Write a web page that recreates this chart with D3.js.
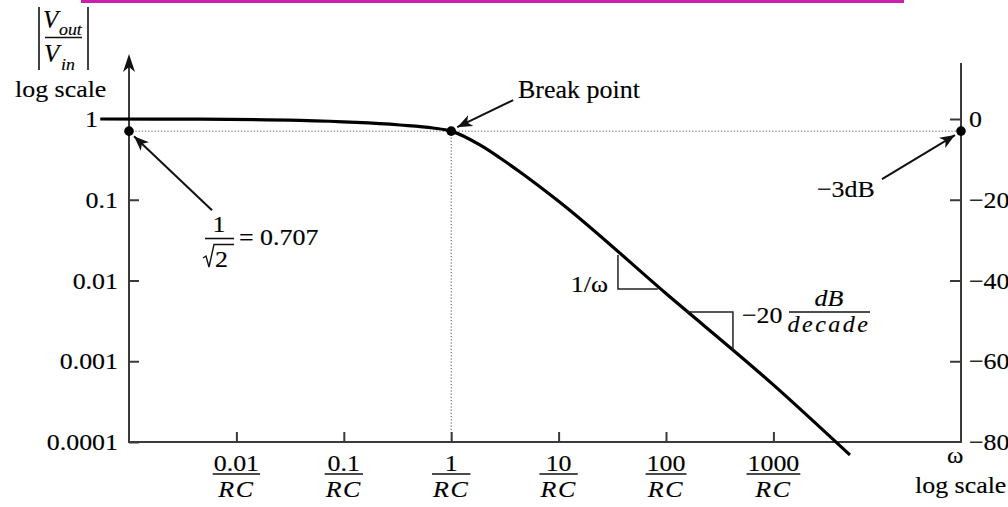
<!DOCTYPE html>
<html>
<head>
<meta charset="utf-8">
<script src="https://cdn.jsdelivr.net/npm/d3@7"></script>
<style>
  html, body { margin: 0; padding: 0; background: #fff; }
  svg { display: block; }
  text { font-family: "Liberation Serif", "Times New Roman", serif; fill: #000; stroke: #000; stroke-width: 0.15px; }
</style>
</head>
<body>
<svg id="chart" width="1008" height="507"></svg>
<script>
// Low-pass RC filter: magnitude response on log-log axes
const xTickValues = [0.01, 0.1, 1, 10, 100, 1000];
const xTickLabels = ["0.01", "0.1", "1", "10", "100", "1000"];
const yTickValues = [1, 0.1, 0.01, 0.001, 0.0001];
const yTickLabels = ["1", "0.1", "0.01", "0.001", "0.0001"];
const dbTickValues = [0, -20, -40, -60, -80];
const dbTickLabels = ["0", "\u221220", "\u221240", "\u221260", "\u221280"];

// |Vout/Vin| versus omega (in units of 1/RC)
const curveOmega = [0.00054, 0.0046, 0.039, 0.333, 0.676, 1, 1.85, 2.85, 4.37, 10, 100, 1000, 5160];
const curveMag   = [1, 0.995, 0.96, 0.843, 0.774, 0.707, 0.477, 0.329, 0.221, 0.096, 0.0069, 0.00051, 0.000069];

const breakOmega = 1;
const halfPower = 0.707;
const minus3dB = -3;

// slope guide triangles, in data units: [omega, magnitude] corners
const slopeTri1 = [[35.7, 0.0207], [35.7, 0.00785], [84, 0.00785]];
const slopeTri2 = [[157, 0.00407], [420, 0.00407], [420, 0.00138]];

const svg = d3.select("#chart");

const x = d3.scaleLog().domain([0.001, 55800]).range([129, 961]);
const y = d3.scaleLog().domain([0.0001, 1]).range([442, 119]);
const yDb = d3.scaleLinear().domain([-80, 0]).range([442, 119]);

const AX = "#3a3a3a";
const SX = 1.08;
const FS = 24;

// text helper: slightly widened serif text
function label(g, px, py, str, o = {}) {
  const t = g.append("text")
    .attr("transform", `translate(${px},${py}) scale(${o.sx ?? SX},1)`)
    .attr("text-anchor", o.anchor || "start")
    .style("font-size", (o.size || FS) + "px")
    .text(str);
  if (o.italic) t.style("font-style", "italic");
  if (o.ls) t.style("letter-spacing", o.ls + "px");
  return t;
}
function textWidth(t, sx = SX) { return t.node().getComputedTextLength() * sx; }

// arrow from tail to tip with a barbed head
function arrow(g, tail, tip) {
  g.append("line").attr("x1", tail[0]).attr("y1", tail[1])
    .attr("x2", tip[0]).attr("y2", tip[1])
    .attr("stroke", "#111").attr("stroke-width", 2);
  const a = Math.atan2(tip[1] - tail[1], tip[0] - tail[0]) * 180 / Math.PI;
  g.append("path").attr("d", "M0,0 L-15,-6 L-11,0 L-15,6 Z")
    .attr("fill", "#111")
    .attr("transform", `translate(${tip[0]},${tip[1]}) rotate(${a})`);
}

// top accent rule
svg.append("rect").attr("x", 81).attr("y", 0).attr("width", 823).attr("height", 3).attr("fill", "#cc1fae");

// ----- axes -----
const x0 = x.range()[0], x1 = x.range()[1];
const yBot = y(0.0001);

// reference lines at the half-power level
svg.append("line").attr("x1", x0).attr("x2", x1)
  .attr("y1", y(halfPower)).attr("y2", y(halfPower))
  .attr("stroke", "#555").attr("stroke-width", 1).attr("stroke-dasharray", "1.2,2");
svg.append("line").attr("x1", x(breakOmega)).attr("x2", x(breakOmega))
  .attr("y1", y(halfPower)).attr("y2", yBot)
  .attr("stroke", "#555").attr("stroke-width", 1).attr("stroke-dasharray", "1.2,2");

// left axis with arrow
svg.append("line").attr("x1", x0).attr("x2", x0).attr("y1", yBot + 1).attr("y2", 62)
  .attr("stroke", AX).attr("stroke-width", 2);
svg.append("path").attr("d", `M${x0},54 L${x0 - 6},72 L${x0},67 L${x0 + 6},72 Z`).attr("fill", "#111");

// right axis
svg.append("line").attr("x1", x1).attr("x2", x1).attr("y1", yBot + 1).attr("y2", 63)
  .attr("stroke", AX).attr("stroke-width", 2);

// bottom axis
svg.append("line").attr("x1", x0 - 1).attr("x2", x1 + 1).attr("y1", yBot).attr("y2", yBot)
  .attr("stroke", AX).attr("stroke-width", 2);

// tick marks via d3 axes
const gx = svg.append("g").attr("transform", `translate(0,${yBot})`)
  .call(d3.axisBottom(x).tickValues(xTickValues).tickSize(-10).tickFormat(""));
const gy = svg.append("g").attr("transform", `translate(${x0},0)`)
  .call(d3.axisLeft(y).tickValues(yTickValues.slice(1)).tickSize(-10).tickFormat(""));
const gr = svg.append("g").attr("transform", `translate(${x1},0)`)
  .call(d3.axisRight(yDb).tickValues(dbTickValues.slice(0, 4)).tickSize(-11).tickFormat(""));
[gx, gy, gr].forEach(g => {
  g.select(".domain").remove();
  g.selectAll(".tick line").attr("stroke", AX).attr("stroke-width", 2);
});

// left tick labels
yTickValues.forEach((v, i) => {
  const px = v === 1 ? 98 : 118;
  label(svg, px, y(v) + 8, yTickLabels[i], { anchor: "end" });
});

// right dB labels (run off the right edge)
dbTickValues.forEach((v, i) => {
  label(svg, 969, yDb(v) + 8, dbTickLabels[i]);
});

// bottom fraction labels  n / RC
xTickValues.forEach((v, i) => {
  const cx = x(v);
  const num = label(svg, cx, 471, xTickLabels[i], { anchor: "middle" });
  const den = label(svg, cx, 497, "RC", { anchor: "middle", italic: true, ls: 1.5 });
  const w = Math.max(textWidth(num), textWidth(den)) + 2;
  svg.append("line").attr("x1", cx - w / 2).attr("x2", cx + w / 2)
    .attr("y1", 474).attr("y2", 474).attr("stroke", "#111").attr("stroke-width", 1.6);
});

// axis titles
const title = svg.append("g");
title.append("line").attr("x1", 39).attr("x2", 39).attr("y1", 7).attr("y2", 70).attr("stroke", "#111").attr("stroke-width", 1.6);
title.append("line").attr("x1", 88).attr("x2", 88).attr("y1", 7).attr("y2", 70).attr("stroke", "#111").attr("stroke-width", 1.6);
label(title, 43, 28, "V", { italic: true, size: 25, sx: 1.0 });
label(title, 59, 35, "out", { italic: true, size: 17, sx: 1.05 });
title.append("line").attr("x1", 45).attr("x2", 82).attr("y1", 37.5).attr("y2", 37.5).attr("stroke", "#111").attr("stroke-width", 1.6);
label(title, 44, 62, "V", { italic: true, size: 25, sx: 1.0 });
label(title, 61, 70, "in", { italic: true, size: 17, sx: 1.05 });
label(svg, 15, 97, "log scale");

label(svg, 947, 463, "\u03c9", { size: 23 });
label(svg, 915, 493, "log scale");

// ----- response curve -----
const curveData = curveOmega.map((w, i) => [w, curveMag[i]]);
svg.append("path")
  .datum(curveData)
  .attr("d", d3.line().x(d => x(d[0])).y(d => y(d[1])).curve(d3.curveMonotoneX))
  .attr("fill", "none").attr("stroke", "#000").attr("stroke-width", 3.2)
  .attr("stroke-linejoin", "round");

// slope guide triangles
[slopeTri1, slopeTri2].forEach(tri => {
  svg.append("path")
    .attr("d", d3.line().x(d => x(d[0])).y(d => y(d[1]))(tri))
    .attr("fill", "none").attr("stroke", "#222").attr("stroke-width", 1.5);
});

// marker dots
const dotBreak = [x(breakOmega), y(halfPower)];
const dotLeft = [x0, y(halfPower)];
const dotRight = [x1, yDb(minus3dB)];
[dotBreak, dotLeft, dotRight].forEach(p => {
  svg.append("circle").attr("cx", p[0]).attr("cy", p[1]).attr("r", 4.8).attr("fill", "#000");
});

// annotations
arrow(svg, [dotBreak[0] + 62, dotBreak[1] - 31], [dotBreak[0] + 6, dotBreak[1] - 4]);
label(svg, 518, 98, "Break point", { sx: 1.02, size: 25.5 });

arrow(svg, [dotLeft[0] + 83, dotLeft[1] + 79], [dotLeft[0] + 5, dotLeft[1] + 5]);
// 1/sqrt(2) = 0.707
label(svg, 219, 232, "1", { anchor: "middle" });
svg.append("line").attr("x1", 205).attr("x2", 234).attr("y1", 238.5).attr("y2", 238.5).attr("stroke", "#111").attr("stroke-width", 1.6);
svg.append("path").attr("d", "M203,258 L206,256 L209,267 L214,244.5 L234,244.5")
  .attr("fill", "none").attr("stroke", "#111").attr("stroke-width", 1.4);
label(svg, 215, 267, "2");
label(svg, 239, 245, "= 0.707");

arrow(svg, [dotRight[0] - 79, dotRight[1] + 48], [dotRight[0] - 6, dotRight[1] + 4]);
label(svg, 817, 197, "\u22123dB");

// slope labels
label(svg, 608, 292, "1/\u03c9", { anchor: "end" });
label(svg, 742, 323, "\u221220");
label(svg, 829, 306, "dB", { anchor: "middle", italic: true });
svg.append("line").attr("x1", 789).attr("x2", 870).attr("y1", 312).attr("y2", 312).attr("stroke", "#111").attr("stroke-width", 1.6);
label(svg, 829, 332, "decade", { anchor: "middle", italic: true, ls: 2.5, sx: 1.0 });
</script>
</body>
</html>
